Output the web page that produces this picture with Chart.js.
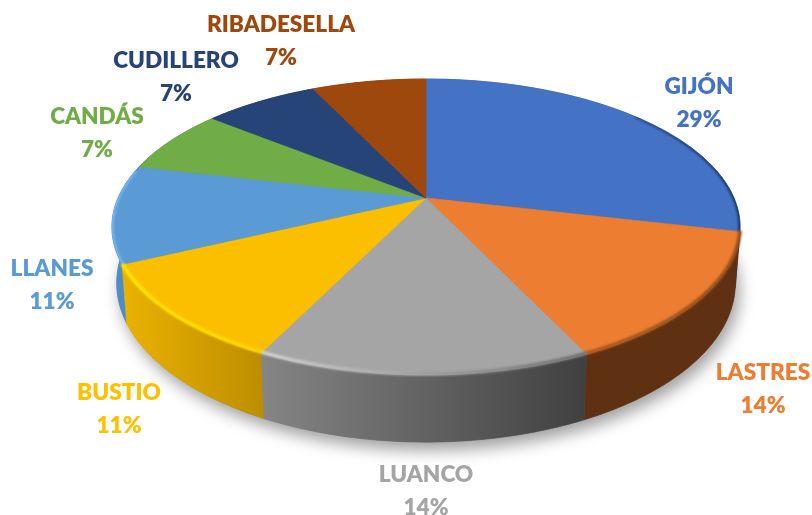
<!DOCTYPE html>
<html>
<head>
<meta charset="utf-8">
<style>html,body{margin:0;padding:0;background:#fff}canvas{display:block}</style>
<script src="https://cdn.jsdelivr.net/npm/chart.js@4"></script>
</head>
<body>
<canvas id="c" width="812" height="515"></canvas>
<script>
const categories = ['GIJÓN','LASTRES','LUANCO','BUSTIO','LLANES','CANDÁS','CUDILLERO','RIBADESELLA'];
const shares = [28.6,14.3,14.3,10.7,10.7,7.1,7.1,7.1];
const topColors = ['#4472C4','#ED7D31','#A5A5A5','#FBBF00','#5B9BD5','#70AD47','#264478','#9E480E'];
const labelColors = ['#4472C4','#ED7D31','#A5A5A5','#FFC000','#5B9BD5','#70AD47','#264478','#9E480E'];
const wallLeft = ['#2d4c84','#5f3012','#858585','#EBB200','#4f8fc9','#4a7530','#19294a','#632c09'];
const wallRight = ['#1f3a66','#5f3012','#404040','#BD8E00','#4a86bf','#4a7530','#19294a','#632c09'];
const rimLeft = ['#2d5296','#a8591f','#d2d2d2','#FFE600','#74baf5','#70AD47','#264478','#9E480E'];
const rimRight = ['#1c3560','#8f4d1e','#6e6e6e','#FFD800','#74baf5','#70AD47','#264478','#9E480E'];
const labelAnchors = [[699,87],[763,373],[426,475],[119,393],[52,269],[97,117],[176,61],[281,25]];

const view = {cx:426, cy:198, rx:308, a:142.3, k:0.196, h:54, inset:0.985};
function project(u,v,low){
  const d = 1 - view.k*v;
  const s = low ? view.inset : 1;
  return [view.cx + view.rx*u*s/d, view.cy + (view.a*v + (low?view.h:0))/d];
}
function rimPoints(a0,a1,low){
  const n = Math.max(2,Math.ceil(Math.abs(a1-a0)/0.01));
  const pts = [];
  for(let i=0;i<=n;i++){
    const t = a0+(a1-a0)*i/n;
    pts.push(project(Math.cos(t),Math.sin(t),low));
  }
  return pts;
}
function trace(ctx,pts){
  pts.forEach((p,i)=> i ? ctx.lineTo(p[0],p[1]) : ctx.moveTo(p[0],p[1]));
}
function xGradient(ctx,pts,c0,c1){
  const xs = pts.map(p=>p[0]);
  const g = ctx.createLinearGradient(Math.min(...xs),0,Math.max(...xs)+0.01,0);
  g.addColorStop(0,c0); g.addColorStop(1,c1);
  return g;
}
const tiltedPie = {
  id:'tiltedPie',
  beforeDatasetDraw(chart,args){
    const ctx = chart.ctx;
    const arcs = args.meta.data;
    ctx.save();
    // ground shadow
    ctx.save();
    ctx.shadowColor='rgba(0,0,0,0.38)';
    ctx.shadowBlur=16;
    ctx.shadowOffsetY=8;
    ctx.shadowOffsetX=4;
    ctx.fillStyle='#888';
    ctx.beginPath();
    trace(ctx,rimPoints(0,Math.PI*2,true));
    ctx.closePath();
    ctx.fill();
    ctx.restore();
    // walls, back to front
    const order = arcs.map((arc,i)=>i).sort((p,q)=>{
      const m = i=>Math.sin((arcs[i].startAngle+arcs[i].endAngle)/2);
      return m(p)-m(q);
    });
    order.forEach(i=>{
      const arc = arcs[i];
      const t = rimPoints(arc.startAngle,arc.endAngle,false);
      const b = rimPoints(arc.startAngle,arc.endAngle,true).reverse();
      const grad = xGradient(ctx,t,wallLeft[i],wallRight[i]);
      ctx.fillStyle = grad;
      ctx.strokeStyle = grad;
      ctx.lineWidth = 0.6;
      ctx.beginPath();
      trace(ctx,t.concat(b));
      ctx.closePath();
      ctx.fill();
      ctx.stroke();
    });
    // top surfaces
    arcs.forEach(arc=>{
      const col = arc.options.backgroundColor;
      ctx.fillStyle = col;
      ctx.strokeStyle = col;
      ctx.lineWidth = 0.6;
      ctx.beginPath();
      trace(ctx,[[view.cx,view.cy]].concat(rimPoints(arc.startAngle,arc.endAngle,false)));
      ctx.closePath();
      ctx.fill();
      ctx.stroke();
    });
    // bevelled rim on the near half; the far ends stay inside the top disc
    arcs.forEach((arc,i)=>{
      const lo = Math.max(arc.startAngle,-0.7), hi = Math.min(arc.endAngle,Math.PI+0.2);
      if(hi<=lo) return;
      const pts = rimPoints(lo,hi,false);
      const sides = Math.sin((arc.startAngle+arc.endAngle)/2) < 0.6;
      ctx.save();
      if(sides){
        ctx.beginPath();
        trace(ctx,rimPoints(0,Math.PI*2,false));
        ctx.closePath();
        ctx.clip();
      }
      ctx.filter='blur(1.2px)';
      ctx.lineCap='butt';
      ctx.lineWidth=3.6;
      ctx.strokeStyle=xGradient(ctx,pts,rimLeft[i],rimRight[i]);
      ctx.beginPath();
      trace(ctx,pts.map(p=>[p[0],p[1]-(sides?0:1)]));
      ctx.stroke();
      ctx.restore();
    });
    ctx.restore();
    return false;
  },
  afterDatasetsDraw(chart){
    const ctx = chart.ctx;
    const vals = chart.data.datasets[0].data;
    const sum = vals.reduce((s,x)=>s+x,0);
    ctx.save();
    ctx.textAlign='center';
    ctx.textBaseline='middle';
    ctx.font='800 22.6px Lato, "Open Sans", sans-serif';
    chart.data.labels.forEach((lab,i)=>{
      const [x,y]=labelAnchors[i];
      ctx.fillStyle=labelColors[i];
      ctx.fillText(lab,x,y);
      ctx.fillText(Math.round(vals[i]/sum*100)+'%',x,y+33);
    });
    ctx.restore();
  }
};
new Chart(document.getElementById('c'),{
  type:'pie',
  data:{labels:categories,datasets:[{data:shares,backgroundColor:topColors,borderWidth:0}]},
  options:{
    responsive:false,
    animation:false,
    plugins:{legend:{display:false},tooltip:{enabled:false}}
  },
  plugins:[tiltedPie]
});
</script>
</body>
</html>
